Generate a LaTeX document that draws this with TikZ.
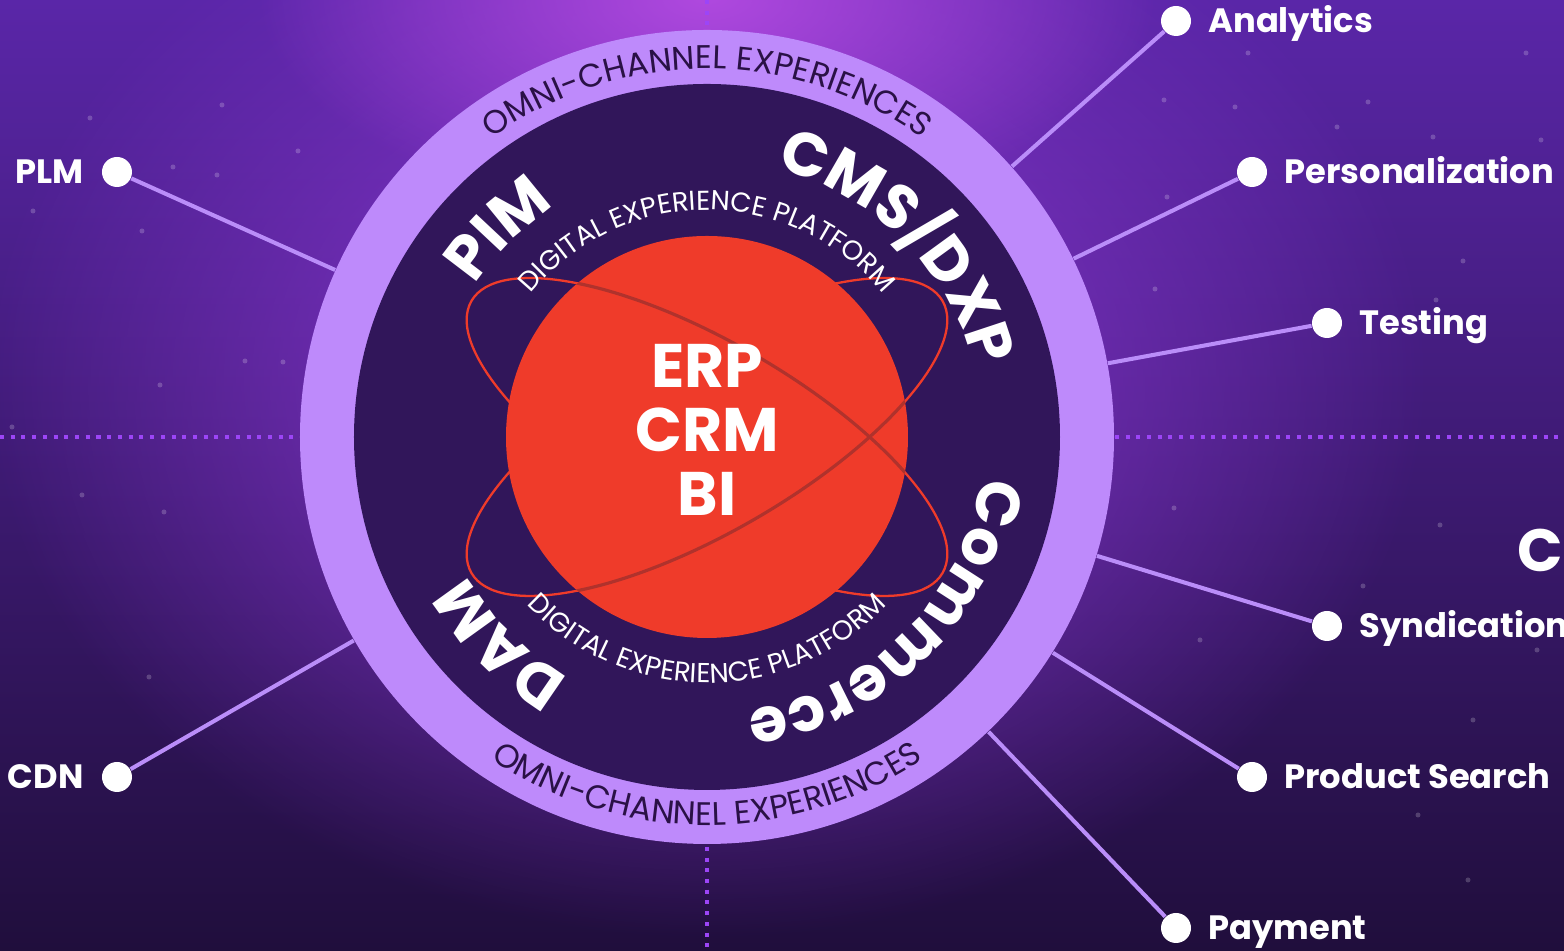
\documentclass[tikz,border=0pt]{standalone}
\usepackage{fontspec}
\setmainfont{Poppins}
\usetikzlibrary{positioning,decorations.text,fadings}

\definecolor{bgtop}{HTML}{5A26A8}
\definecolor{bgbot}{HTML}{200E3C}
\definecolor{glow}{HTML}{8E38D6}
\definecolor{glowtop}{HTML}{B049DF}
\definecolor{ringcol}{HTML}{BE8AFB}
\definecolor{hubcol}{HTML}{31165A}
\definecolor{corecol}{HTML}{EF3B2A}
\definecolor{orbitdark}{HTML}{B0322C}
\definecolor{spokecol}{HTML}{BA8DF9}
\definecolor{dotcol}{HTML}{9C45F7}
\definecolor{omnicol}{HTML}{2A1146}

\tikzfading[name=glowfade, inner color=transparent!0, outer color=transparent!100]

\newcommand{\bigfont}{\fontsize{17.5}{18.2}\selectfont\bfseries}
\newcommand{\lblfont}{\fontsize{9.6}{9.6}\selectfont\bfseries}
\newcommand{\omnifont}{\fontsize{9.3}{9.3}\selectfont}
\newcommand{\depfont}{\fontsize{7.8}{7.8}\selectfont}
\newcommand{\titlefont}{\fontsize{17}{17}\selectfont\bfseries}

\begin{document}
\begin{tikzpicture}
	\tikzset{dot/.style={circle, fill=white, minimum size=0.3cm, inner sep=0pt},
		lbl/.style={text=white, font=\lblfont, inner sep=0pt, text height=0.24cm, text depth=0pt},
		spoke/.style={draw=spokecol, line width=1.15pt},
		dotline/.style={draw=dotcol, line width=1.15pt, dash pattern=on 1.15pt off 1.9pt},
		disc/.style={circle, inner sep=0pt, minimum size=#1},
		orbit/.style={draw=corecol, line width=0.65pt},
		orbitfront/.style={draw=orbitdark, line width=0.9pt},
		arctext/.style 2 args={decorate, decoration={text along path, text align=center, text color=#1, text={#2}}}}
	\useasboundingbox (-7.07,-5.14) rectangle (8.57,4.37);
	\clip (-7.07,-5.14) rectangle (8.57,4.37);
	\fill[top color=bgtop, bottom color=bgbot] (-7.07,-5.14) rectangle (8.57,4.37);
	\fill[glow, path fading=glowfade, fit fading=true] (0,0.6) ellipse [x radius=7.2, y radius=5.6];
	\fill[glowtop, path fading=glowfade, fit fading=true] (0,4.4) ellipse [x radius=4.5, y radius=2.2];
	\foreach \x/\y in {5.41/3.84, 4.57/3.37, 5.28/3.30, 6.61/3.35, 6.30/3.10, 8.19/3.84, 8.34/2.97, 7.26/3.00,
		4.48/1.48, 7.29/1.37, 7.56/1.76, 4.60/2.40, -6.17/3.19, -4.85/3.32, -4.09/2.86, -5.34/2.70,
		-4.90/2.62, -6.74/2.26, -5.65/2.06, -4.62/0.76, -4.24/0.75, -5.47/0.52, -6.95/0.10, -6.25/-0.58,
		-5.43/-0.75, -5.58/-2.40, 4.67/-0.71, 7.33/-0.88, 6.56/-1.49, 8.30/-2.13, 7.66/-2.83, 7.11/-3.78,
		7.61/-4.43, 4.93/-2.03}
		\fill[white, opacity=0.2] (\x,\y) circle (0.025);

	\coordinate (W) at (-7.07,0);
	\coordinate (E) at (8.57,0);
	\coordinate (N) at (0,4.37);
	\coordinate (S) at (0,-5.14);
	\draw[dotline] (W) -- (E);
	\draw[dotline] (N) -- (S);

	\node[disc=8.14cm, fill=ringcol] (ring) at (0,0) {};
	\node[disc=7.06cm, fill=hubcol] (hub) at (0,0) {};

	\draw[orbit, rotate=-30] (0,0) ellipse [x radius=2.72, y radius=0.95];
	\draw[orbit, rotate=30] (0,0) ellipse [x radius=2.72, y radius=0.95];
	\node[disc=4.02cm, fill=corecol] (erp) at (0,0) {};
	\begin{scope}
		\clip (erp.center) circle (2.01);
		\draw[orbitfront, rotate=-30] (0:2.72 and 0.95) arc[start angle=0, end angle=180, x radius=2.72, y radius=0.95];
		\draw[orbitfront, rotate=30] (180:2.72 and 0.95) arc[start angle=180, end angle=360, x radius=2.72, y radius=0.95];
	\end{scope}
	\node[align=center, text=white, font=\bigfont, inner sep=0pt] (erptxt) at (0,0.075) {ERP\\CRM\\BI};

	\path[arctext={omnicol}{|\omnifont|OMNI-CHANNEL EXPERIENCES}] (160:3.68) arc[start angle=160, end angle=20, radius=3.68];
	\path[arctext={omnicol}{|\omnifont|OMNI-CHANNEL EXPERIENCES}] (200:3.88) arc[start angle=200, end angle=340, radius=3.88];
	\path[arctext={white}{|\depfont|DIGITAL EXPERIENCE PLATFORM}] (170:2.27) arc[start angle=170, end angle=10, radius=2.27];
	\path[arctext={white}{|\depfont|DIGITAL EXPERIENCE PLATFORM}] (190:2.46) arc[start angle=190, end angle=350, radius=2.46];
	\path[arctext={white}{|\bigfont|PIM}] (175:2.77) arc[start angle=175, end angle=95, radius=2.77];
	\path[arctext={white}{|\bigfont|CMS/DXP}] (95:2.77) arc[start angle=95, end angle=-5, radius=2.77];
	\path[arctext={white}{|\bigfont|Commerce}] (5:2.77) arc[start angle=5, end angle=-95, radius=2.77];
	\path[arctext={white}{|\bigfont|DAM}] (265:2.77) arc[start angle=265, end angle=185, radius=2.77];

	\node[dot] (ana) at (4.69,4.16) {};
	\node[dot] (pers) at (5.45,2.65) {};
	\node[dot] (test) at (6.20,1.14) {};
	\node[dot] (synd) at (6.20,-1.89) {};
	\node[dot] (search) at (5.45,-3.40) {};
	\node[dot] (pay) at (4.69,-4.91) {};
	\node[dot] (plm) at (-5.90,2.65) {};
	\node[dot] (cdn) at (-5.90,-3.40) {};
	\foreach \d in {ana,pers,test,synd,search,pay,plm,cdn}
		\draw[spoke] (\d) -- (ring);

	\node[lbl, right=0.16cm of ana] (analbl) {Analytics};
	\node[lbl, right=0.16cm of pers] (perslbl) {Personalization};
	\node[lbl, right=0.16cm of test] (testlbl) {Testing};
	\node[lbl, right=0.16cm of synd] (syndlbl) {Syndication};
	\node[lbl, right=0.16cm of search] (searchlbl) {Product Search};
	\node[lbl, right=0.16cm of pay] (paylbl) {Payment};
	\node[lbl, left=0.17cm of plm] (plmlbl) {PLM};
	\node[lbl, left=0.17cm of cdn] (cdnlbl) {CDN};

	\node[text=white, font=\titlefont, anchor=west, inner sep=0pt, text height=0.42cm, text depth=0pt] (title) at (8.10,-1.14) {C};
\end{tikzpicture}
\end{document}
